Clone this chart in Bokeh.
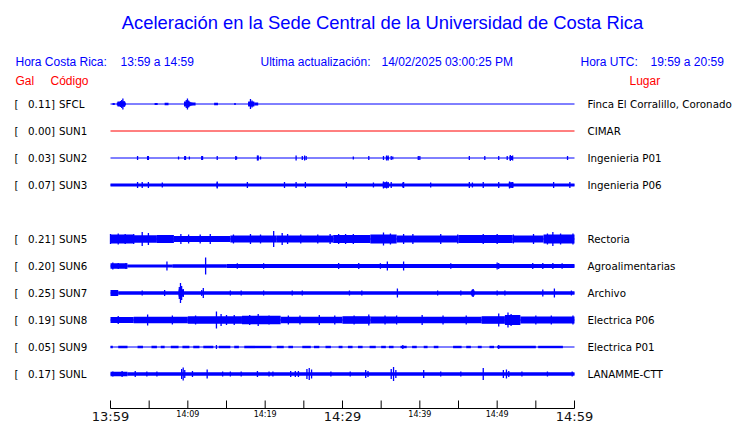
from bokeh.plotting import figure
from bokeh.models import Range1d, ColumnDataSource
from bokeh.core.properties import value
from bokeh.embed import file_html
from bokeh.resources import INLINE

# ---------------- data ----------------
title_text = "Aceleración en la Sede Central de la Universidad de Costa Rica"
hdr_cr_label = "Hora Costa Rica:"
hdr_cr_value = "13:59 a 14:59"
hdr_upd_label = "Ultima actualización:"
hdr_upd_value = "14/02/2025 03:00:25 PM"
hdr_utc_label = "Hora UTC:"
hdr_utc_value = "19:59 a 20:59"

codes = ["SFCL", "SUN1", "SUN2", "SUN3", "SUN5", "SUN6", "SUN7", "SUN8", "SUN9", "SUNL"]
gal = [0.11, 0.00, 0.03, 0.07, 0.21, 0.20, 0.25, 0.19, 0.05, 0.17]
places = ["Finca El Corralillo, Coronado", "CIMAR", "Ingenieria P01", "Ingenieria P06",
          "Rectoria", "Agroalimentarias", "Archivo", "Electrica P06", "Electrica P01", "LANAMME-CTT"]
rows = [0, 1, 2, 3, 5, 6, 7, 8, 9, 10]
trace_colors = ["#0000ff", "#ff0000", "#0000ff", "#0000ff", "#0000ff",
                "#0000ff", "#0000ff", "#0000ff", "#0000ff", "#0000ff"]

# time axis (minutes after 13:59)
tick_minutes = [0, 5, 10, 15, 20, 25, 30, 35, 40, 45, 50, 55, 60]
big_tick_minutes = [0, 30, 60]
big_tick_labels = ["13:59", "14:29", "14:59"]
small_tick_minutes = [10, 20, 40, 50]
small_tick_labels = ["14:09", "14:19", "14:39", "14:49"]

# envelopes: bands (t0, t1, half amplitude) and spikes (t, half amplitude)
sfcl_bands = [(0.26, 0.5, 1.0), (0.9, 1.9, 2.5), (5.7, 6.1, 1.0), (7.0, 7.5, 1.2),
              (9.5, 10.3, 2.5), (10.3, 11.0, 1.5), (13.4, 13.9, 1.2), (16.0, 16.2, 1.0),
              (17.8, 18.6, 2.5), (18.6, 19.1, 1.5)]
sfcl_spikes = [(0.45, 1.0), (0.9, 1.5), (1.1, 2.0), (1.3, 3.0), (1.45, 4.0), (1.6, 5.5), (1.75, 3.0),
               (1.9, 1.5), (9.6, 2.0), (9.8, 4.0), (9.95, 5.5), (10.1, 3.5), (10.3, 2.0),
               (10.5, 1.5), (17.9, 2.0), (18.1, 5.0), (18.3, 3.5), (18.5, 2.0)]
sun1_bands = []
sun1_spikes = []
sun2_bands = [(35.6, 36.0, 1.5), (51.6, 52.0, 2.0)]
sun2_spikes = [(3.5, 2.0), (4.8, 2.0), (4.9, 2.0), (8.8, 1.5), (9.6, 2.0), (9.7, 2.0), (10.2, 1.5),
               (11.8, 2.0), (11.9, 2.0), (13.8, 2.0), (16.2, 2.0), (16.3, 1.5), (19.0, 2.5),
               (19.1, 2.5), (19.4, 1.5), (24.0, 2.5), (24.8, 2.0), (25.1, 2.5), (25.3, 2.0),
               (31.4, 1.5), (33.4, 2.0), (35.3, 2.0), (35.7, 2.5), (35.9, 2.5), (36.3, 2.0),
               (36.5, 1.5), (39.8, 2.0), (40.0, 2.0), (46.4, 2.0), (48.4, 2.0), (50.2, 2.0),
               (51.3, 2.0), (51.7, 3.0), (52.0, 2.5), (59.1, 2.0)]
sun3_bands = [(0.0, 60.0, 1.5), (13.7, 13.9, 2.5), (35.2, 36.0, 2.5), (51.5, 52.1, 2.5)]
sun3_spikes = [(3.5, 3.0), (4.1, 3.0), (4.9, 3.0), (6.7, 2.5), (13.8, 3.5), (17.7, 3.0), (22.5, 3.0),
               (24.0, 3.0), (25.2, 3.0), (30.5, 3.0), (34.0, 2.5), (35.3, 3.5), (35.5, 3.0),
               (35.7, 3.5), (35.9, 3.0), (36.3, 3.0), (37.8, 2.5), (37.9, 3.0), (41.4, 2.5),
               (46.4, 3.0), (46.8, 2.5), (48.2, 3.0), (50.2, 3.0), (51.6, 3.5), (51.8, 3.0),
               (52.0, 3.0), (57.3, 3.0), (59.4, 3.0)]
sun5_bands = [(0.0, 3.0, 4.5), (3.0, 6.0, 3.8), (6.0, 8.2, 4.0), (8.2, 15.5, 3.0), (15.5, 21.5, 3.5),
              (21.5, 28.8, 3.5), (28.8, 33.6, 4.0), (33.6, 37.0, 4.5), (37.0, 45.0, 3.5),
              (45.0, 52.0, 4.0), (52.0, 56.0, 3.5), (56.0, 60.0, 4.5)]
sun5_spikes = [(0.0, 5.0), (1.0, 5.5), (1.9, 5.0), (3.0, 5.0), (4.1, 7.0), (4.9, 6.0), (9.1, 5.0),
               (10.1, 4.5), (11.6, 4.5), (12.9, 5.0), (15.9, 4.5), (18.1, 5.0), (19.4, 4.5),
               (21.1, 8.0), (22.2, 6.0), (22.9, 5.0), (24.6, 4.5), (26.8, 4.5), (28.4, 5.0),
               (29.5, 5.0), (30.4, 5.0), (31.4, 5.0), (35.3, 6.5), (36.2, 5.5), (37.9, 5.0),
               (39.1, 5.0), (42.7, 5.0), (44.9, 4.5), (48.2, 5.0), (50.0, 5.0), (52.1, 4.5),
               (54.7, 5.0), (56.5, 5.5), (57.2, 7.0), (58.2, 5.5), (59.8, 5.5)]
sun6_bands = [(0.0, 2.2, 2.8), (2.2, 8.0, 1.6), (8.0, 15.0, 1.8), (15.0, 60.0, 2.0)]
sun6_spikes = [(0.3, 3.5), (1.0, 3.0), (2.0, 3.0), (7.3, 4.5), (12.3, 8.5), (16.4, 2.8), (19.8, 2.8),
               (29.5, 3.0), (32.1, 3.0), (34.9, 2.8), (35.8, 4.5), (37.9, 4.5), (44.0, 2.8),
               (50.0, 3.5), (50.2, 3.0), (54.6, 3.0), (55.9, 3.0), (57.2, 3.0), (58.4, 2.8)]
sun7_bands = [(0.0, 1.0, 3.0), (1.0, 60.0, 1.7), (8.8, 9.5, 3.5), (46.6, 47.1, 2.5)]
sun7_spikes = [(0.2, 3.0), (4.1, 2.5), (7.0, 3.0), (8.9, 6.0), (9.05, 10.0), (9.2, 7.0), (9.4, 4.0),
               (11.8, 3.0), (12.0, 5.0), (15.5, 2.5), (16.9, 2.5), (19.8, 2.5), (23.5, 2.5),
               (24.8, 2.5), (30.9, 2.5), (32.5, 2.5), (37.1, 4.5), (42.3, 2.5), (45.3, 2.5),
               (46.8, 3.5), (46.9, 4.0), (50.0, 2.5), (51.0, 2.5), (55.9, 3.5), (57.4, 4.5),
               (59.6, 2.5)]
sun8_bands = [(0.0, 3.0, 3.0), (3.0, 10.0, 3.3), (10.0, 17.0, 3.8), (17.0, 22.0, 4.2),
              (22.0, 30.0, 3.3), (30.0, 33.6, 3.8), (33.6, 37.0, 3.5), (37.0, 48.0, 3.3),
              (48.0, 51.0, 3.8), (51.0, 53.0, 5.0), (53.0, 60.0, 3.5)]
sun8_spikes = [(1.0, 4.0), (4.8, 5.5), (8.0, 4.5), (11.0, 4.5), (13.7, 8.5), (14.3, 6.0), (15.0, 5.0),
               (16.0, 5.0), (18.0, 5.0), (19.1, 6.0), (20.5, 4.5), (23.0, 4.5), (24.5, 4.5),
               (27.0, 5.0), (29.0, 4.5), (31.5, 4.5), (33.4, 5.5), (35.5, 4.5), (37.0, 4.5),
               (40.3, 5.0), (43.0, 4.5), (46.0, 4.5), (50.2, 6.5), (51.4, 7.5), (51.8, 6.0),
               (52.3, 5.0), (55.0, 4.5), (57.0, 4.5), (59.8, 4.5)]
sun9_bands = [(0.0, 0.3, 1.2), (1.0, 2.2, 1.2), (3.5, 4.2, 1.2), (5.3, 6.0, 1.2), (6.5, 7.0, 1.2),
              (7.8, 8.8, 1.2), (9.3, 10.2, 1.2), (10.7, 11.5, 1.2), (12.0, 13.3, 1.2),
              (14.0, 15.5, 1.2), (16.0, 16.6, 1.2), (17.3, 20.8, 1.2), (21.5, 22.4, 1.2),
              (23.0, 23.6, 1.2), (24.8, 25.9, 1.2), (26.3, 27.0, 1.2), (27.8, 28.5, 1.2),
              (29.5, 30.0, 1.2), (30.7, 31.3, 1.2), (32.0, 32.6, 1.2), (33.5, 34.3, 1.2),
              (35.0, 35.6, 1.2), (36.0, 36.6, 1.2), (37.5, 38.3, 1.2), (39.0, 39.6, 1.2),
              (40.5, 41.0, 1.2), (41.8, 42.4, 1.2), (44.3, 45.4, 1.2), (46.0, 46.6, 1.2),
              (47.5, 48.0, 1.2), (49.0, 49.6, 1.2), (50.0, 55.0, 1.2), (55.3, 58.5, 1.2)]
sun9_spikes = [(13.7, 2.0), (37.8, 2.0), (50.2, 2.0)]
sunl_bands = [(0.0, 2.2, 2.3), (2.2, 60.0, 1.8)]
sunl_spikes = [(0.3, 2.5), (1.5, 3.0), (3.2, 3.0), (4.7, 2.5), (6.0, 2.5), (9.2, 5.0), (9.4, 6.5),
               (9.6, 4.0), (10.6, 3.0), (12.5, 4.5), (14.5, 2.5), (15.5, 2.5), (16.9, 2.5),
               (19.0, 3.0), (20.5, 2.5), (21.0, 2.5), (23.3, 3.0), (23.9, 3.0), (24.3, 3.0),
               (25.4, 5.0), (25.7, 6.0), (26.0, 4.5), (28.5, 2.5), (31.0, 2.5), (33.0, 4.0),
               (33.3, 3.0), (36.3, 5.0), (36.6, 7.0), (36.9, 4.0), (40.5, 4.0), (42.7, 2.5),
               (45.3, 2.5), (48.2, 6.0), (50.8, 4.0), (51.2, 4.5), (51.5, 3.0), (53.2, 2.5),
               (56.5, 2.5), (59.7, 2.5)]

station_bands = [sfcl_bands, sun1_bands, sun2_bands, sun3_bands, sun5_bands,
                 sun6_bands, sun7_bands, sun8_bands, sun9_bands, sunl_bands]
station_spikes = [sfcl_spikes, sun1_spikes, sun2_spikes, sun3_spikes, sun5_spikes,
                  sun6_spikes, sun7_spikes, sun8_spikes, sun9_spikes, sunl_spikes]

# ---------------- layout helpers ----------------
W, H = 740, 423
PXM = 464.0 / 60.0          # pixels per minute
ROW = 27.0                  # pixels per row
AMP = 1.0 / ROW             # amplitude unit -> rows


def X(px):
    return (px - 110.0) / PXM


def Y(py):
    return (py - 103.5) / ROW


p = figure(width=W, height=H, x_range=Range1d(X(0), X(W)), y_range=Range1d(Y(H), Y(0)),
           x_axis_type=None, y_axis_type=None, toolbar_location=None, output_backend="svg",
           min_border=0)
p.outline_line_color = None
p.background_fill_color = "white"
p.border_fill_color = "white"

BLUE = "#0000ff"
RED = "#ff0000"

# ---------------- traces ----------------
base = dict(x0=[], x1=[], y=[], c=[])
bands = dict(l=[], r=[], t=[], b=[], c=[])
spk = dict(x=[], y0=[], y1=[], c=[])
for r, col, bl, sl in zip(rows, trace_colors, station_bands, station_spikes):
    base["x0"].append(0.0); base["x1"].append(60.0); base["y"].append(r); base["c"].append(col)
    for t0, t1, a in bl:
        bands["l"].append(t0); bands["r"].append(t1)
        bands["t"].append(r - a * AMP); bands["b"].append(r + a * AMP); bands["c"].append(col)
    for t, a in sl:
        spk["x"].append(t); spk["y0"].append(r - a * AMP); spk["y1"].append(r + a * AMP); spk["c"].append(col)

p.segment(x0="x0", x1="x1", y0="y", y1="y", line_color="c", line_width=1,
          source=ColumnDataSource(base))
p.quad(left="l", right="r", top="t", bottom="b", fill_color="c", line_color=None,
       source=ColumnDataSource(bands))
p.segment(x0="x", x1="x", y0="y0", y1="y1", line_color="c", line_width=1.3,
          source=ColumnDataSource(spk))

# ---------------- texts ----------------
SANS = value("Liberation Sans")
DJV = value("DejaVu Sans")

p.text(x=[X(382)], y=[Y(22)], text=[title_text], text_font=SANS, text_font_size="18.4px",
       text_color=BLUE, text_align="center", text_baseline="middle")

hx = [X(15), X(120), X(260), X(381), X(580), X(650)]
ht = [hdr_cr_label, hdr_cr_value, hdr_upd_label, hdr_upd_value, hdr_utc_label, hdr_utc_value]
p.text(x=hx, y=[Y(61)] * len(hx), text=ht, text_font=SANS, text_font_size="12px",
       text_color=BLUE, text_align="left", text_baseline="middle")

p.text(x=[X(15), X(50), X(629)], y=[Y(80)] * 3, text=["Gal", "Código", "Lugar"], text_font=SANS,
       text_font_size="12px", text_color=RED, text_align="left", text_baseline="middle")

p.text(x=[X(14)] * len(rows), y=rows, text=["["] * len(rows), text_font=DJV,
       text_font_size="10.3px", text_color="black", text_align="left", text_baseline="middle")
p.text(x=[X(54.5)] * len(rows), y=rows, text=["%.2f]" % g for g in gal], text_font=DJV,
       text_font_size="10.3px", text_color="black", text_align="right", text_baseline="middle")
p.text(x=[X(58.5)] * len(rows), y=rows, text=codes, text_font=DJV,
       text_font_size="10.3px", text_color="black", text_align="left", text_baseline="middle")
p.text(x=[X(587)] * len(rows), y=rows, text=places, text_font=DJV,
       text_font_size="10.3px", text_color="black", text_align="left", text_baseline="middle")

# ---------------- time axis ----------------
p.segment(x0=[0], x1=[60], y0=[Y(408)], y1=[Y(408)], line_color="black", line_width=1)
p.segment(x0=tick_minutes, x1=tick_minutes, y0=[Y(400)] * len(tick_minutes),
          y1=[Y(408)] * len(tick_minutes), line_color="black", line_width=1)
p.text(x=big_tick_minutes, y=[Y(416)] * 3, text=big_tick_labels, text_font=DJV,
       text_font_size="13px", text_color="#111111", text_align="center", text_baseline="middle")
p.text(x=small_tick_minutes, y=[Y(414)] * 4, text=small_tick_labels, text_font=DJV,
       text_font_size="8px", text_color="black", text_align="center", text_baseline="middle")

open("out.html", "w").write(file_html(p, INLINE))
